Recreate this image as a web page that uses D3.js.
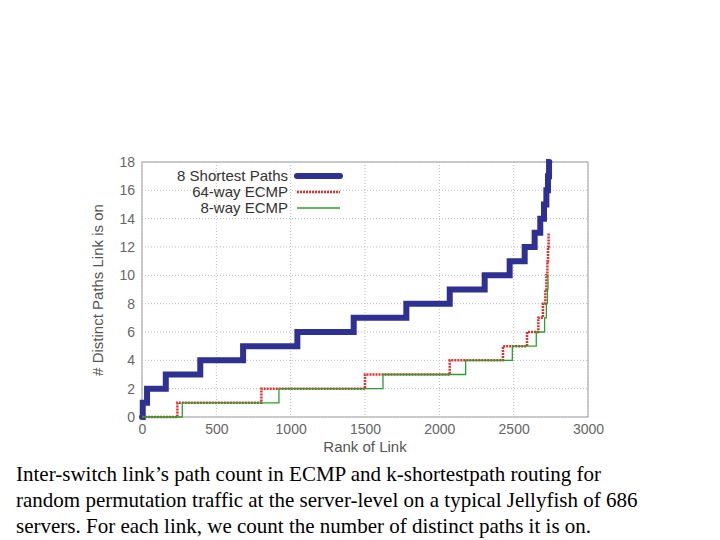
<!DOCTYPE html><html><head><meta charset="utf-8"><script src="https://d3js.org/d3.v7.min.js"></script>
<style>body{margin:0;background:#fff}</style></head><body><svg id="c" width="720" height="540"></svg>
<script>
const yTicks=[0,2,4,6,8,10,12,14,16,18];
const xTicks=[0,500,1000,1500,2000,2500,3000];
// step start ranks for levels 0..N
const blueX=[0,5,34,160,392,680,1045,1424,1778,2070,2305,2473,2574,2641,2679,2704,2720,2731,2738];
const blueY=[0,1,2,3,4,5,6,7,8,9,10,11,12,13,14,15,16,17,18];
const redX=[0,238,803,1500,2070,2428,2590,2666,2697,2713,2720,2727,2731,2735];
const redY=[0,1,2,3,4,5,6,7,8,9,10,11,12,13];
const greenX=[0,271,921,1621,2177,2491,2652,2708,2720,2727,2731];
const greenY=[0,1,2,3,4,5,6,7,8,9,10];
const svg=d3.select('#c');
const x=d3.scaleLinear().domain([0,3000]).range([142,588]);
const y=d3.scaleLinear().domain([0,18]).range([417,162]);
svg.append('rect').attr('x',142).attr('y',162).attr('width',446).attr('height',255).attr('fill','none').attr('stroke','#999');
yTicks.forEach(t=>svg.append('line').attr('x1',142).attr('x2',588).attr('y1',y(t)).attr('y2',y(t)).attr('stroke','#bbb').attr('stroke-dasharray','1,2'));
xTicks.forEach(t=>svg.append('line').attr('y1',162).attr('y2',417).attr('x1',x(t)).attr('x2',x(t)).attr('stroke','#bbb').attr('stroke-dasharray','1,2'));
const ax=svg.append('g').attr('transform','translate(0,417)').call(d3.axisBottom(x).tickValues(xTicks).tickFormat(d3.format('d')).tickSize(0).tickPadding(7));
const ay=svg.append('g').attr('transform','translate(142,0)').call(d3.axisLeft(y).tickValues(yTicks).tickSize(0).tickPadding(7));
[ax,ay].forEach(a=>{a.select('.domain').remove();a.selectAll('text').attr('font-family','Liberation Sans, Arial').attr('font-size',14).attr('fill','#666');});
svg.append('text').attr('x',365).attr('y',452).attr('text-anchor','middle').attr('font-family','Liberation Sans, Arial').attr('font-size',15).attr('fill','#555').text('Rank of Link');
svg.append('text').attr('transform','translate(103,290) rotate(-90)').attr('text-anchor','middle').attr('font-family','Liberation Sans, Arial').attr('font-size',15).attr('fill','#555').text('# Distinct Paths Link is on');
const line=d3.line().x(d=>x(d[0])).y(d=>y(d[1])).curve(d3.curveStepAfter);
function pts(X,Y,end){const p=X.map((v,i)=>[v,Y[i]]);p.push([end,Y[Y.length-1]]);return p;}
svg.append('path').attr('d',line(pts(blueX,blueY,2740))).attr('fill','none').attr('stroke','#2e3192').attr('stroke-width',6).attr('stroke-linecap','round');
svg.append('path').attr('d',line(pts(redX,redY,2736))).attr('fill','none').attr('stroke','#e03030').attr('stroke-width',2.5).attr('stroke-dasharray','2,1');
svg.append('path').attr('d',line(pts(greenX,greenY,2732))).attr('fill','none').attr('stroke','#2ca02c').attr('stroke-width',1.3);
const leg=[['8 Shortest Paths','#2e3192',6,null],['64-way ECMP','#e03030',2.5,'2,1'],['8-way ECMP','#2ca02c',1.3,null]];
leg.forEach((l,i)=>{const yy=176+i*16;
svg.append('text').attr('x',288).attr('y',yy+5).attr('text-anchor','end').attr('font-family','Liberation Sans, Arial').attr('font-size',15).attr('fill','#333').text(l[0]);
svg.append('line').attr('x1',297).attr('x2',340).attr('y1',yy).attr('y2',yy).attr('stroke',l[1]).attr('stroke-width',l[2]).attr('stroke-dasharray',l[3]).attr('stroke-linecap',i==0?'round':'butt');});
const cap=["Inter-switch link’s path count in ECMP and k-shortestpath routing for","random permutation traffic at the server-level on a typical Jellyfish of 686","servers. For each link, we count the number of distinct paths it is on."];
cap.forEach((c,i)=>svg.append('text').attr('x',16).attr('y',481+i*26).attr('font-family','Liberation Serif, Times New Roman').attr('font-size',21).attr('fill','#000').text(c));
</script></body></html>
